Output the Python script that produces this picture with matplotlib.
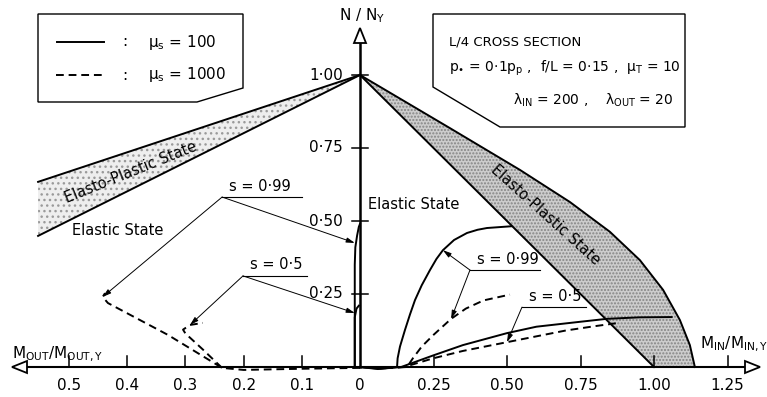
import numpy as np
import matplotlib.pyplot as plt
from matplotlib.patches import Polygon
from matplotlib.transforms import Affine2D

plt.rcParams['font.family'] = ['DejaVu Sans']
plt.rcParams['mathtext.fontset'] = 'dejavusans'

W, H = 767, 397
K = 1.98  # M_OUT side is drawn at twice the scale of the M_IN side

# axis ticks
m_in_ticks = [0.25, 0.50, 0.75, 1.00, 1.25]
m_in_labels = ["0.25", "0.50", "0.75", "1.00", "1.25"]
m_out_ticks = [0.1, 0.2, 0.3, 0.4, 0.5]
m_out_labels = ["0.1", "0.2", "0.3", "0.4", "0.5"]
n_ticks = [0.25, 0.50, 0.75, 1.00]
n_labels = ["0·25", "0·50", "0·75", "1·00"]

# elasto-plastic band, in-plane side
ep_in_inner_m = [0.0, 1.0]
ep_in_inner_n = [1.0, 0.0]
ep_in_outer_m = [0.0, 0.306, 0.544, 0.714, 0.850, 0.952, 1.031, 1.088, 1.122, 1.139]
ep_in_outer_n = [1.0, 0.818, 0.675, 0.565, 0.463, 0.366, 0.264, 0.161, 0.075, 0.0]

# elasto-plastic band, out-of-plane side
ep_out_m = [0.0, 0.553]
ep_out_upper_n = [1.0, 0.634]
ep_out_lower_n = [1.0, 0.449]

# mu_s = 100 (solid), in-plane
in_s99_solid_m = [0.0, 0.061, 0.126, 0.128, 0.136, 0.153, 0.17, 0.187, 0.21, 0.238, 0.26,
                  0.282, 0.32, 0.364, 0.40, 0.432, 0.515]
in_s99_solid_n = [0.0, -0.007, 0.0, 0.03, 0.07, 0.127, 0.18, 0.229, 0.28, 0.332, 0.37,
                  0.40, 0.435, 0.459, 0.47, 0.476, 0.482]
in_s05_solid_m = [0.0, 0.07, 0.14, 0.25, 0.35, 0.50, 0.60, 0.75, 0.84, 0.95, 1.06]
in_s05_solid_n = [0.0, -0.006, 0.0, 0.04, 0.075, 0.116, 0.138, 0.155, 0.165, 0.17, 0.171]

# mu_s = 1000 (dashed), in-plane
in_s99_dash_m = [0.0, 0.08, 0.16, 0.18, 0.21, 0.25, 0.31, 0.36, 0.42, 0.51]
in_s99_dash_n = [0.0, -0.004, 0.0, 0.03, 0.07, 0.11, 0.165, 0.20, 0.228, 0.248]
in_s05_dash_m = [0.0, 0.08, 0.15, 0.25, 0.35, 0.50, 0.60, 0.70, 0.80, 0.88]
in_s05_dash_n = [0.0, -0.004, 0.0, 0.03, 0.055, 0.085, 0.105, 0.125, 0.14, 0.151]

# mu_s = 100 (solid), out-of-plane
out_s99_solid_m = [0.0, 0.009, 0.009, 0.008, 0.005, 0.002, 0.0]
out_s99_solid_n = [0.0, 0.0, 0.35, 0.41, 0.45, 0.48, 0.49]
out_s05_solid_m = [0.0, 0.009, 0.009, 0.006, 0.002]
out_s05_solid_n = [0.0, 0.0, 0.17, 0.20, 0.21]

# mu_s = 1000 (dashed), out-of-plane
out_s99_dash_m = [0.0, 0.10, 0.20, 0.237, 0.33, 0.433, 0.442, 0.438]
out_s99_dash_n = [-0.003, -0.006, -0.01, -0.003, 0.11, 0.219, 0.24, 0.253]
out_s05_dash_m = [0.237, 0.27, 0.30, 0.304, 0.292, 0.27]
out_s05_dash_n = [-0.003, 0.06, 0.115, 0.128, 0.144, 0.151]


def ox(m):
    return -K * np.asarray(m)


fig = plt.figure(figsize=(W / 100, H / 100), dpi=100)
ax = fig.add_axes([0, 0, 1, 1])
ax.set_xlim(-360 / 294, 407 / 294)
ax.set_ylim(-30 / 292, 367 / 292)
ax.axis('off')
px = Affine2D().scale(1 / W, -1 / H).translate(0, 1) + fig.transFigure

# bands
xs = np.concatenate([ep_in_outer_m, ep_in_inner_m[::-1]])
ys = np.concatenate([ep_in_outer_n, ep_in_inner_n[::-1]])
ax.fill(xs, ys, facecolor='#cdcdcd', edgecolor='none', zorder=1)
ax.fill(xs, ys, facecolor='none', edgecolor='#858585', hatch='.....', lw=0, zorder=1)
xs = np.concatenate([ox(ep_out_m), ox(ep_out_m)[::-1]])
ys = np.concatenate([ep_out_upper_n, ep_out_lower_n[::-1]])
ax.fill(xs, ys, facecolor='#eeeeee', edgecolor='none', zorder=1)
ax.fill(xs, ys, facecolor='none', edgecolor='#9a9a9a', hatch='...', lw=0, zorder=1)

lw = 1.4
ax.plot(ep_in_inner_m, ep_in_inner_n, color='k', lw=lw)
ax.plot(ep_in_outer_m, ep_in_outer_n, color='k', lw=lw)
ax.plot(ox(ep_out_m), ep_out_upper_n, color='k', lw=lw)
ax.plot(ox(ep_out_m), ep_out_lower_n, color='k', lw=lw)

dash = (0, (4, 2.5))
ax.plot(in_s99_solid_m, in_s99_solid_n, color='k', lw=lw)
ax.plot(in_s05_solid_m, in_s05_solid_n, color='k', lw=lw)
ax.plot(in_s99_dash_m, in_s99_dash_n, color='k', lw=lw, ls=dash)
ax.plot(in_s05_dash_m, in_s05_dash_n, color='k', lw=lw, ls=dash)
ax.plot(ox(out_s99_solid_m), out_s99_solid_n, color='k', lw=lw)
ax.plot(ox(out_s05_solid_m), out_s05_solid_n, color='k', lw=lw)
ax.plot(ox(out_s99_dash_m), out_s99_dash_n, color='k', lw=lw, ls=dash)
ax.plot(ox(out_s05_dash_m), out_s05_dash_n, color='k', lw=lw, ls=dash)

# axes with open arrowheads
ax.plot([(27 - 360) / 294, (745 - 360) / 294], [0, 0], color='k', lw=1.5, zorder=3)
ax.plot([0, 0], [0, (367 - 43) / 292], color='k', lw=1.8, zorder=3)
for tri in ([(12, 367), (27, 361), (27, 373)],
            [(760, 367), (745, 361), (745, 373)],
            [(360, 28), (354, 43), (366, 43)]):
    ax.add_patch(Polygon(tri, closed=True, fc='white', ec='k', lw=1.3, transform=px, zorder=4))

tick_h = 11 / 292
for t, lab in zip(m_in_ticks, m_in_labels):
    ax.plot([t, t], [0, tick_h], color='k', lw=1.1)
    ax.text(t, -0.062, lab, ha='center', va='center', fontsize=11)
for t, lab in zip(m_out_ticks, m_out_labels):
    ax.plot([ox(t), ox(t)], [0, tick_h], color='k', lw=1.1)
    ax.text(ox(t), -0.062, lab, ha='center', va='center', fontsize=11)
ax.text(0, -0.062, "0", ha='center', va='center', fontsize=11)
for t, lab in zip(n_ticks, n_labels):
    ax.plot([-8 / 294, 8 / 294], [t, t], color='k', lw=1.1)
    ax.text(-17 / 294, t, lab, ha='right', va='center', fontsize=11)

ax.text(362, 16, r"N / N$_\mathregular{Y}$", transform=px, ha='center', va='center', fontsize=11)
ax.text(12, 354, r"$\mathregular{M_{OUT}/M_{OUT,Y}}$", transform=px, ha='left', va='center', fontsize=11)
ax.text(700, 344, r"$\mathregular{M_{IN}/M_{IN,Y}}$", transform=px, ha='left', va='center', fontsize=11)

# state labels
ax.text(0.027, 0.555, "Elastic State", ha='left', va='center', fontsize=10.5)
ax.text(-0.98, 0.469, "Elastic State", ha='left', va='center', fontsize=10.5)
ax.text(-0.779, 0.668, "Elasto-Plastic State", rotation=22, ha='center', va='center',
        fontsize=10.5, rotation_mode='anchor')
ax.text(0.63, 0.52, "Elasto-Plastic State", rotation=-42, ha='center', va='center',
        fontsize=10.5, rotation_mode='anchor')


def leader(label, x0, x1, y, targets):
    ax.plot([x0, x1], [y, y], color='k', lw=0.8)
    ax.text(x0 + 0.025, y + 0.012, label, ha='left', va='bottom', fontsize=10.5)
    for tx, ty in targets:
        ax.annotate('', xy=(tx, ty), xytext=(x0, y),
                    arrowprops=dict(arrowstyle='-|>,head_length=0.5,head_width=0.15',
                                    lw=0.7, color='k', shrinkA=0, shrinkB=0))


leader("s = 0·99", -0.469, -0.197, 0.582,
       [(ox(out_s99_dash_m[6]), out_s99_dash_n[6]), (ox(0.009), 0.425)])
leader("s = 0·5", -0.398, -0.18, 0.312,
       [(ox(out_s05_dash_m[4]), out_s05_dash_n[4]), (ox(0.009), 0.185)])
leader("s = 0·99", 0.374, 0.612, 0.332,
       [(in_s99_solid_m[11], in_s99_solid_n[11]), (in_s99_dash_m[6], in_s99_dash_n[6])])
leader("s = 0·5", 0.551, 0.769, 0.205,
       [(in_s05_dash_m[5], in_s05_dash_n[5])])

# legend box
ax.add_patch(Polygon([(38, 14), (243, 14), (243, 88), (197, 102), (38, 102)], closed=True,
                     fc='white', ec='k', lw=1.0, transform=px, zorder=5))
ax.plot([57, 104], [42, 42], color='k', lw=lw, transform=px, zorder=6)
ax.plot([56, 104], [75, 75], color='k', lw=lw, ls=dash, transform=px, zorder=6)
for yy, lab in ((42, "100"), (75, "1000")):
    ax.text(125, yy, ":", transform=px, ha='center', va='center', fontsize=11, zorder=6)
    ax.text(148, yy, r"$\mathregular{\mu_s}$ = " + lab, transform=px, ha='left', va='center',
            fontsize=11, zorder=6)

# section data box
ax.add_patch(Polygon([(433, 14), (685, 14), (685, 127), (500, 127), (433, 87)], closed=True,
                     fc='white', ec='k', lw=1.0, transform=px, zorder=5))
ax.text(449, 42, "L/4 CROSS SECTION", transform=px, ha='left', va='center', fontsize=9.5, zorder=6)
ax.text(449, 68, r"$\mathregular{p_{\bullet}}$ = 0·1$\mathregular{p_p}$ ,  f/L = 0·15 ,  $\mathregular{\mu_T}$ = 10",
        transform=px, ha='left', va='center', fontsize=10, zorder=6)
ax.text(513, 100, r"$\mathregular{\lambda_{IN}}$ = 200 ,    $\mathregular{\lambda_{OUT}}$ = 20",
        transform=px, ha='left', va='center', fontsize=10, zorder=6)

fig.savefig("out.png", dpi=100)
